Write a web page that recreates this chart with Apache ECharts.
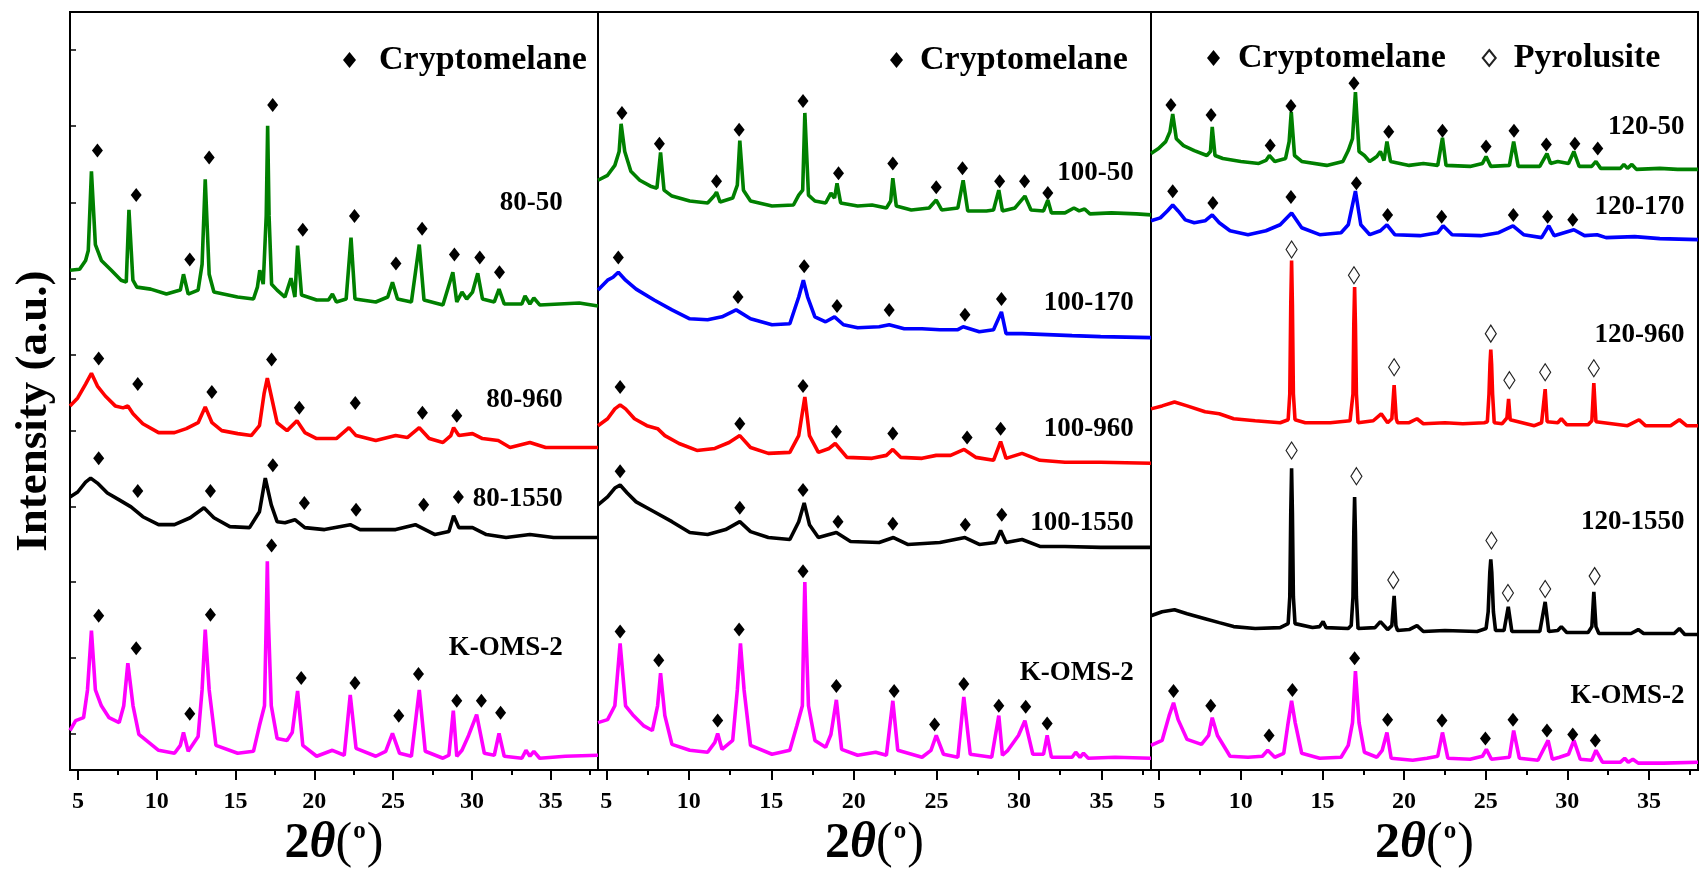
<!DOCTYPE html>
<html>
<head>
<meta charset="utf-8">
<script src="https://cdn.jsdelivr.net/npm/echarts@6/dist/echarts.min.js"></script>
<style>html,body{margin:0;padding:0;background:#fff;}#c{width:1702px;height:874px;}</style>
</head>
<body>
<div id="c"></div>
<script>
// ---------------- DATA: [2theta (deg), intensity (a.u.)] ----------------
const xMajorTicks = [5, 10, 15, 20, 25, 30, 35];
const xMinorTicks = [7.5, 12.5, 17.5, 22.5, 27.5, 32.5, 37.5];
const yTicks = [37, 114, 190, 266, 343, 420, 496, 573, 651, 728];

const names1 = ['80-50', '80-960', '80-1550', 'K-OMS-2'];
const names2 = ['100-50', '100-170', '100-960', '100-1550', 'K-OMS-2'];
const names3 = ['120-50', '120-170', '120-960', '120-1550', 'K-OMS-2'];

// Panel 1
const p1_50 = [[4.5,505],[5.11,506],[5.49,515],[5.66,525],[5.86,605],[6.11,531],[6.49,515],[7.12,505],[7.74,495],[8.07,493],[8.24,566],[8.49,495],[8.74,488],[9.62,486],[10.62,481],[11.5,485],[11.7,501],[12.0,481],[12.63,485],[12.88,511],[13.08,597],[13.33,501],[13.63,483],[15.13,478],[16.14,476],[16.39,488],[16.54,505],[16.76,491],[16.95,560],[17.04,651],[17.13,560],[17.29,491],[17.64,485],[18.14,478],[18.52,497],[18.77,478],[18.94,530],[19.19,480],[20.15,475],[20.9,475],[21.15,481],[21.4,473],[22.02,476],[22.33,538],[22.58,476],[23.9,473],[24.66,478],[24.96,493],[25.28,476],[26.16,473],[26.66,531],[26.96,475],[28.16,470],[28.79,503],[29.04,473],[29.37,483],[29.67,476],[30.04,483],[30.37,502],[30.67,476],[31.42,473],[31.72,486],[32.05,471],[33.17,471],[33.37,479],[33.68,471],[33.93,477],[34.3,470],[35.55,471],[36.81,472],[38,469]];
const p1_960 = [[4.5,368],[4.99,376],[5.49,390],[5.86,401],[6.24,388],[6.74,378],[7.37,368],[7.87,366],[8.17,368],[8.5,360],[9.12,350],[10.12,341],[11.13,341],[11.88,345],[12.63,351],[13.08,367],[13.51,351],[14.13,343],[15.14,340],[16.0,338],[16.52,348],[16.82,381],[17.02,396],[17.27,378],[17.64,351],[18.27,343],[18.9,353],[19.4,341],[20.15,335],[21.4,335],[22.2,346],[22.65,338],[23.9,333],[25.16,338],[25.9,336],[26.66,346],[27.29,335],[28.16,331],[28.66,338],[28.84,346],[29.17,338],[30.04,340],[30.67,335],[31.67,333],[32.42,326],[33.68,331],[34.68,326],[36.18,326],[38,326]];
const p1_1550 = [[4.5,276],[4.99,281],[5.49,291],[5.81,295],[6.24,290],[6.87,280],[7.62,273],[8.37,266],[9.12,256],[10.12,248],[11.13,248],[12.13,255],[13.0,265],[13.63,255],[14.64,246],[15.89,245],[16.52,261],[16.89,295],[17.27,268],[17.64,251],[18.14,250],[18.77,253],[19.4,245],[20.65,243],[22.28,248],[22.9,243],[25.16,243],[26.41,248],[27.66,238],[28.54,241],[28.84,257],[29.17,245],[30.04,245],[30.92,238],[32.17,235],[33.68,238],[35.18,235],[38,235]];
const p1_K = [[4.5,40],[4.86,50],[5.36,53],[5.61,81],[5.86,141],[6.11,81],[6.49,65],[6.98,53],[7.62,48],[7.91,65],[8.17,108],[8.5,65],[8.87,36],[10.12,20],[11.13,17],[11.5,25],[11.7,38],[12.0,19],[12.63,34],[12.88,81],[13.08,142],[13.33,81],[13.76,25],[15.14,17],[16.14,19],[16.52,45],[16.84,65],[16.95,150],[17.02,211],[17.09,150],[17.27,65],[17.64,32],[18.27,30],[18.6,38],[18.94,80],[19.27,25],[20.15,14],[21.15,20],[21.9,15],[22.28,76],[22.65,22],[23.9,14],[24.53,19],[24.96,37],[25.41,17],[26.16,14],[26.66,81],[27.04,19],[28.16,12],[28.54,15],[28.82,60],[29.04,14],[29.37,20],[29.79,35],[30.3,56],[30.79,17],[31.42,15],[31.72,37],[32.05,14],[33.17,12],[33.43,20],[33.68,14],[33.93,19],[34.3,12],[35.93,14],[38,15]];
const m1_50 = [[6.24,626],[8.7,581],[12.1,516],[13.33,619],[17.36,672],[19.27,546],[22.55,560],[25.18,512],[26.84,547],[28.89,521],[30.5,518],[31.75,503]];
const m1_960 = [[6.32,416],[8.8,390],[13.5,382],[17.29,415],[19.05,366],[22.6,371],[26.86,361],[29.04,358]];
const m1_1550 = [[6.32,315],[8.8,282],[13.41,282],[17.37,308],[19.37,270],[22.65,263],[26.94,268],[29.14,276]];
const m1_K = [[6.32,156],[8.7,123],[12.1,57],[13.41,157],[17.29,227],[19.17,93],[22.58,88],[25.36,55],[26.61,97],[29.04,70],[30.6,70],[31.82,58]];

// Panel 2
const p2_50 = [[4.5,596],[5.08,601],[5.52,611],[5.78,625],[5.9,653],[6.12,625],[6.49,605],[7.03,596],[7.68,590],[8.07,588],[8.29,624],[8.5,586],[8.98,580],[10.06,575],[11.14,573],[11.53,580],[11.68,584],[11.9,574],[12.66,578],[12.94,591],[13.09,636],[13.31,586],[13.74,575],[15.04,570],[16.34,571],[16.66,581],[16.9,586],[17.03,664],[17.25,581],[17.64,575],[18.29,573],[18.61,583],[18.83,578],[18.98,593],[19.2,573],[20.23,570],[21.1,571],[21.97,568],[22.23,575],[22.36,598],[22.57,570],[23.48,566],[24.56,568],[24.99,576],[25.32,566],[26.3,568],[26.62,596],[26.9,565],[28.03,565],[28.46,566],[28.78,586],[29.0,565],[29.76,568],[30.36,580],[30.73,566],[31.49,565],[31.75,576],[31.97,563],[32.79,563],[33.33,568],[33.65,565],[33.98,567],[34.3,562],[35.6,563],[37.12,562],[38,561]];
const p2_170 = [[4.5,485],[5.08,495],[5.41,498],[5.73,503],[6.17,495],[6.81,486],[7.9,475],[8.98,465],[10.06,456],[11.14,455],[12.01,458],[12.87,465],[13.74,456],[15.04,450],[16.12,451],[16.66,478],[16.94,495],[17.2,478],[17.64,458],[18.29,453],[18.83,458],[19.37,450],[20.23,447],[21.53,448],[22.14,450],[23.05,446],[24.13,446],[25.21,445],[26.3,445],[26.62,448],[27.6,443],[28.46,445],[28.94,463],[29.22,441],[30.19,441],[31.71,440],[33.22,439],[34.95,438],[38,437]];
const p2_960 = [[4.5,348],[5.08,355],[5.52,365],[5.84,369],[6.17,365],[6.71,355],[7.46,348],[8.11,345],[8.55,338],[9.41,330],[10.49,323],[11.58,325],[12.44,331],[13.09,338],[13.74,326],[14.82,320],[16.12,321],[16.66,338],[17.03,377],[17.31,338],[17.85,321],[18.5,325],[18.87,330],[19.58,316],[21.1,315],[21.97,318],[22.36,324],[22.83,316],[24.13,315],[24.99,318],[25.86,318],[26.68,324],[27.38,316],[28.46,313],[28.89,332],[29.22,315],[30.19,320],[31.27,313],[32.79,311],[34.95,311],[38,310]];
const p2_1550 = [[4.5,268],[5.08,276],[5.52,285],[5.84,288],[6.27,280],[6.81,271],[7.9,261],[8.98,251],[10.06,240],[11.14,238],[12.23,243],[13.09,251],[13.74,241],[14.82,235],[16.12,233],[16.66,251],[16.99,270],[17.31,248],[17.85,235],[18.94,240],[19.8,231],[21.53,230],[22.4,235],[23.26,228],[25.21,230],[26.73,235],[27.6,228],[28.57,230],[28.89,242],[29.22,230],[30.19,233],[31.27,226],[32.79,226],[34.95,225],[38,225]];
const p2_K = [[4.5,48],[5.08,51],[5.52,65],[5.84,128],[6.17,65],[6.6,56],[7.25,45],[7.79,40],[8.11,65],[8.29,98],[8.55,55],[8.98,26],[10.06,20],[11.14,18],[11.58,28],[11.75,37],[12.01,21],[12.66,30],[12.94,81],[13.13,128],[13.35,81],[13.74,25],[15.04,16],[16.12,20],[16.55,45],[16.88,65],[16.96,140],[17.03,190],[17.1,140],[17.25,65],[17.64,30],[18.29,23],[18.61,36],[18.94,71],[19.26,21],[20.23,15],[21.32,18],[21.97,15],[22.36,70],[22.66,20],[24.13,13],[24.67,20],[24.99,35],[25.43,16],[26.3,13],[26.66,74],[27.05,16],[28.35,13],[28.78,55],[29.0,15],[29.33,20],[29.97,35],[30.36,50],[30.84,16],[31.49,16],[31.71,35],[31.97,13],[33.22,13],[33.44,18],[33.7,13],[33.91,17],[34.2,12],[35.82,13],[38,12]];
const m2_50 = [[5.95,664],[8.22,633],[11.68,595],[13.05,647],[16.92,676],[19.07,603],[22.36,613],[24.99,589],[26.58,608],[28.83,595],[30.34,595],[31.75,583]];
const m2_170 = [[5.73,518],[12.98,478],[16.99,509],[18.98,469],[22.14,465],[26.73,460],[28.94,476]];
const m2_960 = [[5.84,387],[13.09,350],[16.92,388],[18.94,342],[22.36,340],[26.86,336],[28.89,345]];
const m2_1550 = [[5.84,302],[13.09,265],[16.92,283],[19.04,251],[22.36,249],[26.75,248],[28.96,258]];
const m2_K = [[5.84,140],[8.18,111],[11.75,50],[13.05,142],[16.92,201],[18.94,85],[22.44,80],[24.89,46],[26.66,87],[28.78,65],[30.41,64],[31.71,47]];

// Panel 3
const p3_50 = [[4.5,623],[4.96,628],[5.4,635],[5.66,645],[5.83,663],[6.05,638],[6.49,631],[7.15,626],[7.92,621],[8.14,625],[8.25,650],[8.42,621],[8.9,618],[10.0,615],[11.1,613],[11.54,616],[11.75,621],[12.08,615],[12.74,618],[12.96,635],[13.09,665],[13.29,621],[13.73,615],[15.26,611],[16.25,615],[16.58,626],[16.84,638],[17.02,685],[17.24,625],[17.57,621],[17.89,615],[18.33,620],[18.55,625],[18.77,616],[18.95,635],[19.17,615],[20.31,611],[21.18,613],[22.06,611],[22.35,639],[22.57,611],[24.04,610],[24.8,613],[25.02,620],[25.31,610],[26.45,611],[26.71,635],[26.99,610],[28.31,610],[28.75,623],[28.97,613],[29.41,615],[30.07,613],[30.4,625],[30.72,610],[31.49,610],[31.75,615],[32.04,608],[33.25,608],[33.46,612],[33.68,608],[33.95,612],[34.23,607],[35.66,608],[36.75,607],[38,607]];
const p3_170 = [[4.5,555],[5.07,558],[5.5,565],[5.83,571],[6.16,565],[6.6,556],[7.15,553],[7.81,555],[8.25,561],[8.68,553],[9.34,545],[10.44,541],[11.54,545],[12.41,551],[13.11,563],[13.73,548],[14.83,541],[16.14,543],[16.58,551],[17.02,585],[17.35,551],[17.9,541],[18.55,545],[18.95,551],[19.43,541],[20.97,540],[22.06,543],[22.39,550],[22.94,541],[24.69,540],[25.79,543],[26.67,550],[27.32,541],[28.42,538],[28.86,550],[29.19,540],[30.4,546],[31.05,540],[31.82,541],[32.37,538],[34.12,539],[35.66,537],[38,536]];
const p3_960 = [[4.5,365],[5.18,368],[5.94,372],[6.71,368],[7.81,362],[8.68,360],[9.56,355],[10.88,353],[12.41,351],[12.9,354],[13.0,380],[13.06,470],[13.11,515],[13.16,470],[13.22,380],[13.32,354],[13.95,351],[15.48,351],[16.69,353],[16.76,353],[16.87,380],[16.92,450],[16.97,488],[17.02,450],[17.08,380],[17.18,351],[18.11,353],[18.6,360],[18.99,351],[19.25,355],[19.39,389],[19.52,355],[19.6,351],[20.31,351],[20.79,355],[21.18,350],[22.5,351],[23.6,350],[24.91,351],[25.1,352],[25.2,380],[25.26,410],[25.31,425],[25.36,410],[25.42,380],[25.52,351],[26.01,350],[26.3,356],[26.4,375],[26.5,354],[27.98,348],[28.42,351],[28.52,353],[28.64,385],[28.76,352],[29.41,351],[29.63,355],[29.96,349],[31.27,349],[31.5,353],[31.62,391],[31.75,352],[33.68,348],[34.39,354],[34.78,348],[36.32,348],[36.86,354],[37.3,348],[38,348]];
const p3_1550 = [[4.5,156],[5.18,160],[5.94,162],[6.71,158],[7.81,153],[8.68,149],[9.56,145],[10.88,143],[12.41,144],[12.9,148],[13.0,175],[13.06,260],[13.11,305],[13.16,260],[13.22,175],[13.32,148],[14.39,144],[14.83,145],[15.04,150],[15.22,144],[16.58,143],[16.76,146],[16.87,175],[16.92,240],[16.97,276],[17.02,240],[17.08,175],[17.18,143],[18.22,144],[18.55,150],[18.99,142],[19.25,146],[19.39,176],[19.5,146],[19.6,141],[20.31,142],[20.79,146],[21.18,140],[22.5,141],[24.47,140],[25.02,143],[25.15,160],[25.25,200],[25.31,213],[25.37,200],[25.47,160],[25.6,141],[26.12,141],[26.38,165],[26.6,140],[28.31,140],[28.64,170],[28.86,140],[29.41,141],[29.63,145],[29.96,139],[31.27,139],[31.5,145],[31.62,180],[31.75,145],[31.93,138],[33.9,138],[34.34,142],[34.67,138],[36.54,138],[36.86,143],[37.19,137],[38,137]];
const p3_K = [[4.5,25],[5.18,30],[5.61,55],[5.88,68],[6.16,51],[6.71,31],[7.59,26],[8.03,35],[8.25,53],[8.57,35],[9.12,20],[9.34,14],[10.44,13],[11.32,14],[11.65,20],[12.08,13],[12.63,17],[12.9,48],[13.11,70],[13.33,48],[13.73,17],[14.83,12],[16.14,13],[16.58,25],[16.84,48],[17.02,100],[17.24,48],[17.57,18],[18.33,13],[18.66,20],[18.95,38],[19.21,12],[20.53,10],[21.4,12],[22.06,14],[22.35,38],[22.68,12],[24.04,11],[24.8,14],[25.04,21],[25.35,11],[26.45,13],[26.71,40],[27.06,12],[28.2,10],[28.82,30],[29.08,11],[29.52,13],[30.07,16],[30.4,30],[30.79,11],[31.49,10],[31.75,20],[32.15,8],[33.25,8],[33.51,12],[33.73,8],[34.01,11],[34.34,7],[35.88,7],[38,8]];
const m3_50 = [[5.72,672],[8.18,662],[11.8,631],[13.07,671],[16.93,694],[19.06,645],[22.35,646],[25.02,630],[26.73,646],[28.71,632],[30.46,633],[31.86,628]];
const m3_170 = [[5.83,585],[8.29,573],[13.07,579],[17.08,593],[18.99,561],[22.3,559],[26.69,561],[28.79,559],[30.33,556]];
const m3_K = [[5.88,80],[8.16,65],[11.73,35],[13.16,81],[16.97,113],[18.99,51],[22.32,50],[24.98,32],[26.67,51],[28.75,40],[30.33,36],[31.71,30]];
const py3_960 = [[13.11,526],[16.93,500],[19.39,407],[25.31,441],[26.45,394],[28.64,402],[31.62,406]];
const py3_1550 = [[13.11,323],[17.08,297],[19.34,192],[25.35,232],[26.36,179],[28.64,183],[31.67,196]];

// ---------------- LAYOUT / STYLE ----------------
const FONT = "'Liberation Serif','Times New Roman',serif";
const C = {green:'#008000', blue:'#0000ff', red:'#ff0000', black:'#000000', magenta:'#ff00ff'};
const grids = [
  {left:70, top:12, width:528, height:766},
  {left:598, top:12, width:553, height:766},
  {left:1151, top:12, width:547, height:766}
];
// label anchor (right edge) in data units per panel, and label heights
const labelX = [35.8, 36.98, 37.2];
const labelY = [[573, 374, 274, 123], [603, 472, 345, 250, 98], [650, 569, 440, 251, 75]];

const panels = [
  {curves:[[p1_50,C.green],[p1_960,C.red],[p1_1550,C.black],[p1_K,C.magenta]], crypto:[m1_50,m1_960,m1_1550,m1_K], pyro:[], names:names1},
  {curves:[[p2_50,C.green],[p2_170,C.blue],[p2_960,C.red],[p2_1550,C.black],[p2_K,C.magenta]], crypto:[m2_50,m2_170,m2_960,m2_1550,m2_K], pyro:[], names:names2},
  {curves:[[p3_50,C.green],[p3_170,C.blue],[p3_960,C.red],[p3_1550,C.black],[p3_K,C.magenta]], crypto:[m3_50,m3_170,m3_K], pyro:[py3_960,py3_1550], names:names3}
];

const xTitle = '{a|2}{b|θ}{c|(}{s|o}{c|)}';
const xTitleRich = {
  a:{fontFamily:FONT, fontWeight:'bold', fontSize:50, color:'#000'},
  b:{fontFamily:FONT, fontWeight:'bold', fontStyle:'italic', fontSize:50, color:'#000'},
  c:{fontFamily:FONT, fontWeight:'normal', fontSize:50, color:'#000'},
  s:{fontFamily:FONT, fontWeight:'bold', fontSize:25, color:'#000', verticalAlign:'top', padding:[0,1,0,1]}
};

const xAxes = [], yAxes = [], series = [];
grids.forEach((g, i) => {
  xAxes.push({
    type:'value', gridIndex:i, min:4.5, max:38, position:'bottom',
    axisLine:{show:true, onZero:false, lineStyle:{color:'#000', width:2}},
    axisTick:{show:true, inside:false, length:10, lineStyle:{color:'#000', width:2}, customValues:xMajorTicks},
    axisLabel:{show:true, customValues:xMajorTicks, margin:20, fontSize:24, fontWeight:'bold', fontFamily:FONT, color:'#000'},
    splitLine:{show:false},
    name:xTitle, nameLocation:'middle', nameGap:45, nameTextStyle:{rich:xTitleRich}
  });
  xAxes.push({
    type:'value', gridIndex:i, min:4.5, max:38, position:'bottom',
    axisLine:{show:false, onZero:false},
    axisTick:{show:true, inside:false, length:5, lineStyle:{color:'#000', width:2}, customValues:xMinorTicks},
    axisLabel:{show:false}, splitLine:{show:false}
  });
  const y = {type:'value', gridIndex:i, min:0, max:766, splitLine:{show:false}, axisLabel:{show:false}, axisLine:{show:false}};
  if (i === 0) {
    y.axisTick = {show:true, inside:true, length:6, lineStyle:{color:'#000', width:1.5}, customValues:yTicks};
    y.name = 'Intensity (a.u.)';
    y.nameLocation = 'middle';
    y.nameRotate = 90;
    y.nameGap = 13;
    y.nameTextStyle = {fontFamily:FONT, fontWeight:'bold', fontSize:45, color:'#000', padding:[0,40,0,0]};
  } else {
    y.axisTick = {show:false};
  }
  yAxes.push(y);

  const p = panels[i];
  p.curves.forEach(([d, col]) => {
    series.push({type:'line', xAxisIndex:i*2, yAxisIndex:i, data:d, showSymbol:false, symbol:'none',
      lineStyle:{color:col, width:3.6}, itemStyle:{color:col}, silent:true, z:2});
  });
  series.push({type:'scatter', name:'Cryptomelane', xAxisIndex:i*2, yAxisIndex:i,
    data:[].concat(...p.crypto), symbol:'diamond', symbolSize:[11,14],
    itemStyle:{color:'#000', opacity:1}, silent:true, z:5});
  if (p.pyro.length) {
    series.push({type:'scatter', name:'Pyrolusite', xAxisIndex:i*2, yAxisIndex:i,
      data:[].concat(...p.pyro), symbol:'diamond', symbolSize:[11,17],
      itemStyle:{color:'#ffffff', borderColor:'#222', borderWidth:1.2, opacity:1}, silent:true, z:5});
  }
  series.push({type:'scatter', xAxisIndex:i*2, yAxisIndex:i, silent:true, z:6,
    data:p.names.map((n, k) => ({name:n, value:[labelX[i], labelY[i][k]]})),
    symbolSize:1, itemStyle:{color:'rgba(0,0,0,0)', opacity:1},
    label:{show:true, position:'left', distance:0, formatter:'{b}', fontSize:27, fontWeight:'bold', fontFamily:FONT, color:'#000'}});
});

const legendText = (pad) => ({fontFamily:FONT, fontWeight:'bold', fontSize:34, color:'#000', padding:[0,0,0,pad]});
const option = {
  animation:false,
  backgroundColor:'#fff',
  grid: grids.map(g => Object.assign({show:true, borderColor:'#000', borderWidth:2, backgroundColor:'transparent', containLabel:false}, g)),
  xAxis:xAxes, yAxis:yAxes, series:series,
  legend:[
    {left:338, top:38, selectedMode:false, itemWidth:13, itemHeight:16, data:[{name:'Cryptomelane', icon:'diamond'}], textStyle:legendText(18)},
    {left:885, top:38, selectedMode:false, itemWidth:13, itemHeight:16, data:[{name:'Cryptomelane', icon:'diamond'}], textStyle:legendText(12)},
    {left:1202, top:36, selectedMode:false, itemWidth:13, itemHeight:16, itemGap:36, data:[{name:'Cryptomelane', icon:'diamond'},{name:'Pyrolusite', icon:'diamond'}], textStyle:legendText(13)}
  ]
};
const chart = echarts.init(document.getElementById('c'), null, {renderer:'canvas'});
chart.setOption(option);
</script>
</body>
</html>
